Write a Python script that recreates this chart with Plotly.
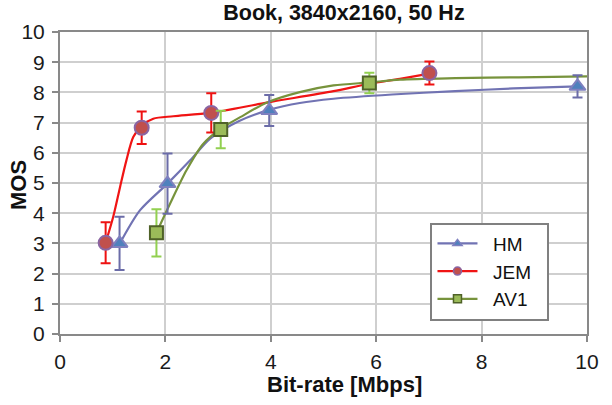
import plotly.graph_objects as go

# Measured points (bit-rate in Mbps, MOS, 95% CI half-width)
hm_x = [1.13, 2.04, 3.97, 9.82]
hm_y = [3.00, 4.98, 7.40, 8.20]
hm_err = [0.88, 1.00, 0.51, 0.37]

jem_x = [0.866, 1.55, 2.87, 7.01]
jem_y = [3.02, 6.83, 7.32, 8.64]
jem_err = [0.68, 0.54, 0.65, 0.38]

av1_x = [1.83, 3.05, 5.87]
av1_y = [3.35, 6.77, 8.31]
av1_err = [0.78, 0.62, 0.34]

# Fitted curves
hm_fit_x = [1.13, 1.52, 2.04, 2.47, 2.85, 3.40, 3.97, 4.55, 5.19, 6.30, 7.50, 8.60, 9.82]
hm_fit_y = [2.98, 4.10, 4.98, 5.75, 6.47, 7.05, 7.42, 7.65, 7.79, 7.93, 8.04, 8.13, 8.20]

jem_fit_x = [0.866, 1.01, 1.14, 1.26, 1.39, 1.55, 1.77, 2.15, 2.85, 3.92, 5.19, 5.82, 6.45, 7.01]
jem_fit_y = [3.02, 3.88, 4.87, 5.75, 6.52, 6.90, 7.13, 7.21, 7.32, 7.66, 8.04, 8.27, 8.45, 8.62]

av1_fit_x = [1.83, 2.09, 2.40, 2.72, 3.05, 3.42, 3.92, 4.55, 5.19, 5.87, 6.45, 7.50, 8.70, 10.0]
av1_fit_y = [3.35, 4.32, 5.42, 6.30, 6.80, 7.18, 7.66, 8.01, 8.23, 8.33, 8.42, 8.47, 8.50, 8.53]

series_names = ["HM", "JEM", "AV1"]
x_ticks = [0, 2, 4, 6, 8, 10]
y_ticks = list(range(0, 11))

FONT = "Liberation Sans, Arial, sans-serif"
NB = "\u00a0"

styles = {
    "HM": dict(line="#7173b3", err="#6b6ca8", sym="triangle-up", fill="#4f81bd", edge="#7f80bf", size=14),
    "JEM": dict(line="#f01414", err="#ee1111", sym="circle", fill="#c0504d", edge="#8a64a2", size=14),
    "AV1": dict(line="#77933c", err="#92d050", sym="square", fill="#9bbb59", edge="#4f6228", size=13),
}
data = {
    "HM": (hm_x, hm_y, hm_err, hm_fit_x, hm_fit_y),
    "JEM": (jem_x, jem_y, jem_err, jem_fit_x, jem_fit_y),
    "AV1": (av1_x, av1_y, av1_err, av1_fit_x, av1_fit_y),
}

fig = go.Figure()

# fitted curves
for name in series_names:
    s = styles[name]
    _, _, _, fx, fy = data[name]
    fig.add_trace(go.Scatter(x=fx, y=fy, mode="lines", line=dict(color=s["line"], width=2.2, shape="spline", smoothing=0.8),
                             showlegend=False, hoverinfo="skip"))

# points with error bars
for name in series_names:
    s = styles[name]
    px, py, pe, _, _ = data[name]
    fig.add_trace(go.Scatter(x=px, y=py, mode="markers",
                             marker=dict(symbol=s["sym"], size=s["size"], color=s["fill"],
                                         line=dict(color=s["edge"], width=2)),
                             error_y=dict(type="data", array=pe, visible=True, color=s["err"], thickness=2, width=5),
                             showlegend=False, name=name))

# legend entries
for name in series_names:
    s = styles[name]
    fig.add_trace(go.Scatter(x=[None], y=[None], mode="lines+markers", name=NB * 2 + name + NB * 2,
                             line=dict(color=s["line"], width=2.2),
                             marker=dict(symbol=s["sym"], size=8, color=s["fill"], line=dict(color=s["edge"], width=1.5))))

axis_common = dict(showline=True, linecolor="#898989", linewidth=2, mirror=True,
                   showgrid=True, gridcolor="#cfcfcf", gridwidth=2, zeroline=False,
                   ticks="outside", ticklen=6, tickwidth=2, tickcolor="#898989", automargin=False,
                   tickfont=dict(family=FONT, size=21, color="#1a1a1a"))

fig.update_layout(
    width=612, height=405,
    margin=dict(l=60, r=25, t=32, b=71),
    paper_bgcolor="white", plot_bgcolor="white",
    title=dict(text="<b>Book, 3840x2160, 50 Hz</b>", x=0.562, xanchor="center", y=0.968, yanchor="middle",
               font=dict(family=FONT, size=21.5, color="#111111")),
    xaxis=dict(range=[0, 10], tickvals=x_ticks, ticklabelstandoff=2, **axis_common),
    yaxis=dict(range=[0, 10], tickvals=y_ticks, ticklabelstandoff=3, **axis_common),
    annotations=[
        dict(text="<b>Bit-rate [Mbps]</b>", xref="paper", yref="paper", x=(344 - 60) / 527, y=-(384 - 334) / 302,
             xanchor="center", yanchor="middle", showarrow=False,
             font=dict(family=FONT, size=22, color="#111111")),
        dict(text="<b>MOS</b>", xref="paper", yref="paper", x=-(60 - 18) / 527, y=(334 - 185) / 302,
             xanchor="center", yanchor="middle", showarrow=False, textangle=-90,
             font=dict(family=FONT, size=22, color="#111111")),
    ],
    legend=dict(x=0.703, y=0.369, xanchor="left", yanchor="top", bgcolor="white",
                bordercolor="#808080", borderwidth=2,
                font=dict(family=FONT, size=19, color="#111111"), itemwidth=40),
    showlegend=True,
)

fig.write_html("out.html")
